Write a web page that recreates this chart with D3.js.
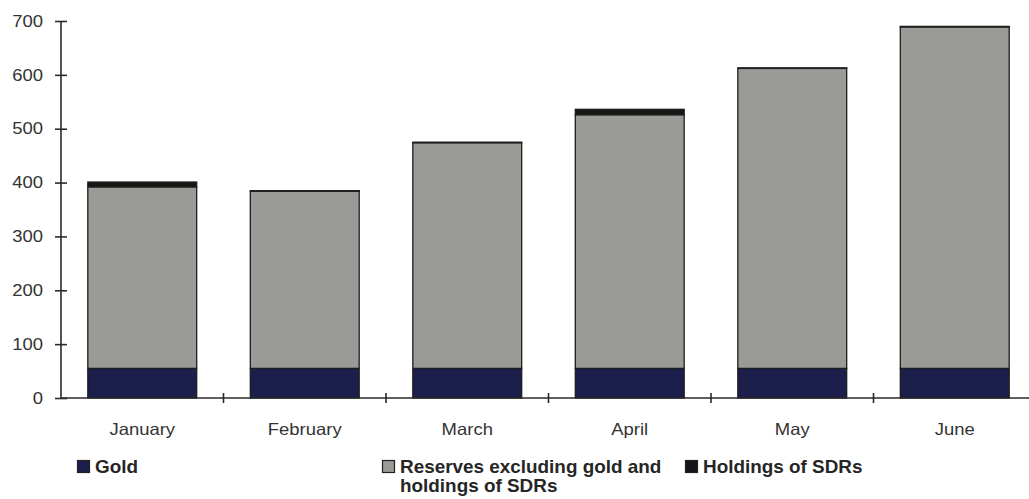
<!DOCTYPE html>
<html>
<head>
<meta charset="utf-8">
<script src="https://cdn.jsdelivr.net/npm/d3@7"></script>
<style>
  html, body { margin: 0; padding: 0; background: #fff; }
  svg { display: block; font-family: "Liberation Sans", Arial, sans-serif; }
</style>
</head>
<body>
<svg id="chart" width="1029" height="499"></svg>
<script>
// Monthly reserve components (stacked from the bottom: gold, other reserves, SDRs)
const months = ["January", "February", "March", "April", "May", "June"];
const gold = [55, 55, 55, 55, 55, 55];
const reservesExGold = [337, 329, 419, 471, 557, 634];
const sdrHoldings = [9, 1, 1, 10, 1, 1];
const yTicks = [0, 100, 200, 300, 400, 500, 600, 700];

const seriesNames = ["Gold", "Reserves excluding gold and holdings of SDRs", "Holdings of SDRs"];
const seriesKeys = ["gold", "reserves", "sdr"];
const colors = { gold: "#1c1f4c", reserves: "#9a9a97", sdr: "#161616" };

const rows = months.map((m, i) => ({
  month: m, gold: gold[i], reserves: reservesExGold[i], sdr: sdrHoldings[i]
}));

const svg = d3.select("#chart");
const axisColor = "#2a2a2a";
const textColor = "#333";
const stretch = 1.12; // horizontal widening of the label glyphs

const y = d3.scaleLinear().domain([0, 700]).range([398, 21]);
const x = d3.scaleBand().domain(months).range([61, 1036])
  .paddingInner(0.33).paddingOuter(0.165);

const stack = d3.stack().keys(seriesKeys)(rows);

// stacked bars
const layers = svg.append("g").selectAll("g").data(stack).join("g")
  .attr("fill", d => colors[d.key]);
layers.selectAll("rect").data(d => d).join("rect")
  .attr("x", d => x(d.data.month))
  .attr("width", x.bandwidth())
  .attr("y", d => y(d[1]))
  .attr("height", d => y(d[0]) - y(d[1]))
  .attr("stroke", "#1e1e1e")
  .attr("stroke-width", 1.3);

// y axis with ticks crossing the line
const yAxis = svg.append("g").attr("transform", "translate(61,0)")
  .call(d3.axisLeft(y).tickValues(yTicks).tickSize(6).tickPadding(0));
yAxis.select(".domain").attr("stroke", axisColor).attr("stroke-width", 1.6)
  .attr("d", `M0,${y(700)}V${y(0)}`);
yAxis.selectAll(".tick line").attr("x1", -6).attr("x2", 6)
  .attr("stroke", axisColor).attr("stroke-width", 1.6);
yAxis.selectAll(".tick text")
  .attr("x", -18 / stretch)
  .attr("transform", `scale(${stretch},1)`)
  .attr("fill", textColor).style("font-size", "16.5px");

// x axis: category labels, boundary tick marks
const xAxis = svg.append("g").attr("transform", "translate(0,398)")
  .call(d3.axisBottom(x).tickSize(0).tickPadding(32));
xAxis.select(".domain").attr("stroke", axisColor).attr("stroke-width", 1.6)
  .attr("d", "M61,0H1036");
xAxis.selectAll(".tick text")
  .attr("dy", "0.32em")
  .attr("transform", `scale(${stretch},1)`)
  .attr("fill", textColor).style("font-size", "16.5px");

const half = x.step() * x.paddingInner() / 2;
svg.append("g").selectAll("line").data(months.slice(1)).join("line")
  .attr("x1", d => x(d) - half).attr("x2", d => x(d) - half)
  .attr("y1", 393).attr("y2", 403)
  .attr("stroke", axisColor).attr("stroke-width", 1.6);

// legend
const legendItems = [
  { key: "gold", x: 77, lines: [seriesNames[0]] },
  { key: "reserves", x: 382, lines: ["Reserves excluding gold and", "holdings of SDRs"] },
  { key: "sdr", x: 685, lines: [seriesNames[2]] }
];
const legend = svg.append("g");
legendItems.forEach(item => {
  legend.append("rect")
    .attr("x", item.x + 0.5).attr("y", 460.5)
    .attr("width", 12).attr("height", 12)
    .attr("fill", colors[item.key])
    .attr("stroke", "#222").attr("stroke-width", 1.2);
  const t = legend.append("text")
    .attr("transform", `translate(${item.x + 18},473) scale(1.08,1)`)
    .attr("fill", "#262626")
    .style("font-size", "17.5px").style("font-weight", "bold");
  item.lines.forEach((ln, i) => {
    t.append("tspan").attr("x", 0).attr("y", i * 19).text(ln);
  });
});
</script>
</body>
</html>
